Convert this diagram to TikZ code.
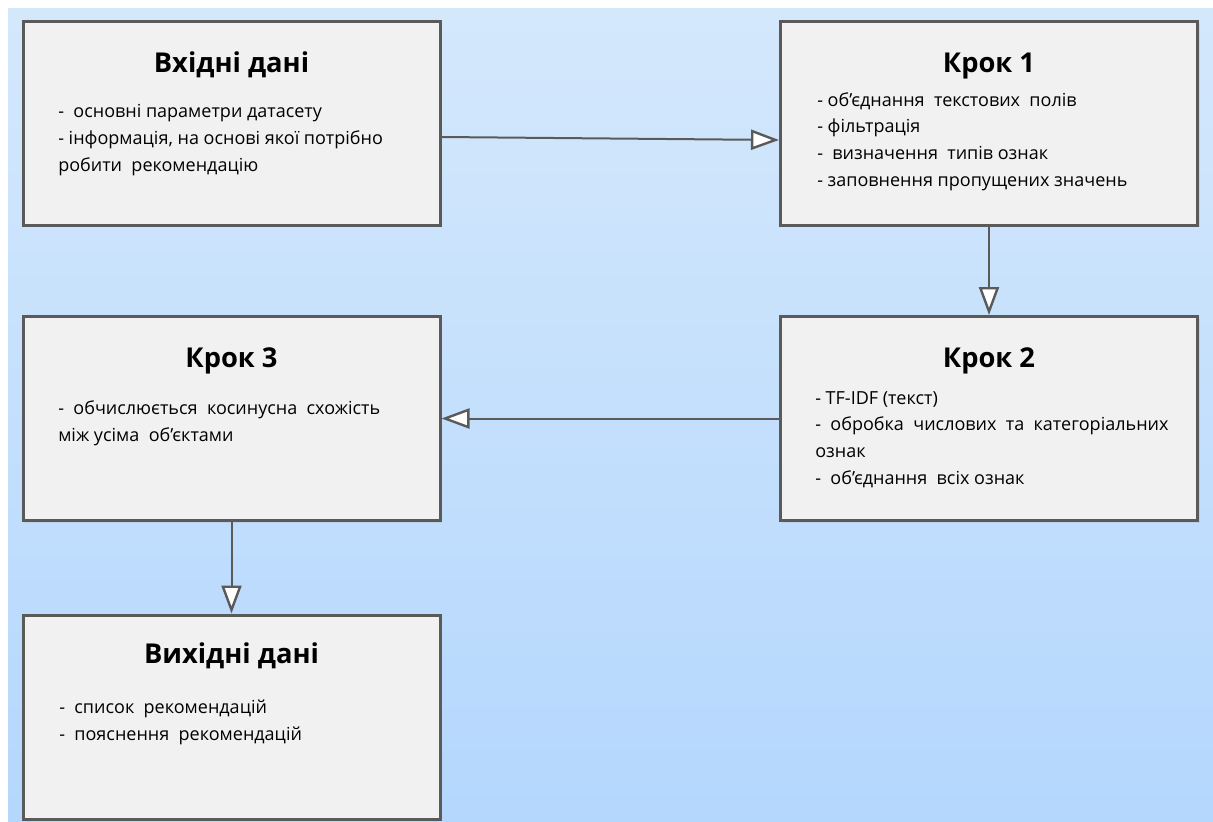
\documentclass[tikz,border=0pt]{standalone}
\usepackage{fontspec}
\setmainfont{Open Sans}
\usetikzlibrary{arrows.meta,shadows}
\definecolor{bgtop}{RGB}{212,232,252}
\definecolor{bgbottom}{RGB}{180,215,253}
\definecolor{boxfill}{RGB}{241,241,241}
\definecolor{boxline}{RGB}{90,90,90}
\begin{document}
\begin{tikzpicture}[
x=0.75pt,
y=-0.75pt,
stage/.style={draw=boxline, line width=2.25pt, fill=boxfill,
  minimum width=312.75pt, minimum height=153pt, inner sep=0pt,
  drop shadow={shadow xshift=1.5pt, shadow yshift=-1.5pt, opacity=0.15}},
title/.style={font=\fontsize{20.5}{24}\selectfont\bfseries, anchor=base, inner sep=0pt},
items/.style={font=\fontsize{13.5}{20}\selectfont, align=left, anchor=base west, inner sep=0pt},
flow/.style={draw=boxline, line width=1.5pt,
  -{Triangle[length=21pt, width=15pt, fill=white, line width=1.8pt]}}
]
\useasboundingbox (0,0) rectangle (1213,821);
\fill[white] (0,0) rectangle (1213,821);
\shade[top color=bgtop, bottom color=bgbottom] (8,8) rectangle (1213,821);

\node[stage] (in) at (231.5,123) {};
\node[stage] (step1) at (989,123) {};
\node[stage] (step3) at (231.5,418.5) {};
\node[stage] (step2) at (989,418.5) {};
\node[stage] (out) at (231.5,717) {};

\node[title] (in-t) at (231.5,72) {Вхідні дані};
\node[title] (step1-t) at (989,72) {Крок 1};
\node[title] (step3-t) at (231.5,367) {Крок 3};
\node[title] (step2-t) at (989,367) {Крок 2};
\node[title] (out-t) at (231.5,663) {Вихідні дані};

% base anchor = last line
\node[items] (in-i) at (58,171) {-\ \ основні параметри датасету\\- інформація,\ на основі якої потрібно\\робити\ \ рекомендацію};
\node[items] (step1-i) at (817,186) {- об'єднання\ \ текстових\ \ полів\\- фільтрація\\-\ \ визначення\ \ типів ознак\\- заповнення пропущених значень};
\node[items] (step3-i) at (58,441) {-\ \ обчислюється\ \ косинусна\ \ схожість\\між усіма\ \ об'єктами};
\node[items] (step2-i) at (815,484) {- TF-IDF (текст)\\-\ \ обробка\ \ числових\ \ та\ \ категоріальних\\ознак\\-\ \ об'єднання\ \ всіх ознак};
\node[items] (out-i) at (59,740) {-\ \ список\ \ рекомендацій\\-\ \ пояснення\ \ рекомендацій};

\draw[flow] ([yshift=-10.5pt]in.east) -- ([yshift=-12.75pt]step1.west);
\draw[flow] (step1.south) -- (step2.north);
\draw[flow] (step2.west) -- (step3.east);
\draw[flow] (step3.south) -- (out.north);
\end{tikzpicture}
\end{document}
